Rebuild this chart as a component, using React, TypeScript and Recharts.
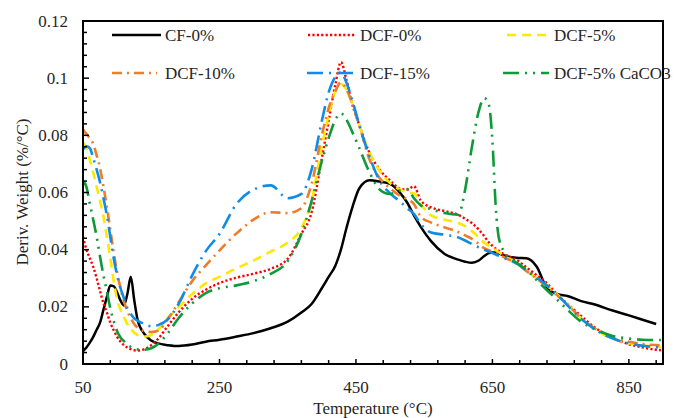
import { LineChart, Line, XAxis, YAxis, Legend, ReferenceArea, Label } from "recharts";

const temps = [
  50, 55, 60, 65, 70, 75, 80, 85, 90, 95,
  100, 105, 110, 115, 120, 125, 130, 140, 150, 160,
  175, 190, 210, 230, 250, 275, 300, 325, 350, 370,
  385, 400, 410, 420, 428, 436, 445, 455, 470, 485,
  500, 515, 525, 535, 545, 560, 580, 600, 610, 620,
  630, 638, 645, 650, 655, 660, 670, 685, 700, 715,
  730, 745, 760, 780, 800, 825, 850, 870, 890, 897,
];

const cf0 = [
  0.0045, 0.0058, 0.0075, 0.0095, 0.012, 0.0145, 0.019, 0.0235, 0.0275, 0.0272,
  0.025, 0.0222, 0.0205, 0.0245, 0.0305, 0.0225, 0.0155, 0.0105, 0.0082, 0.0072,
  0.0066, 0.0063, 0.0068, 0.0078, 0.0085, 0.0096, 0.0108, 0.0125, 0.0148, 0.018,
  0.021, 0.0265, 0.0305, 0.0345, 0.04, 0.0475, 0.055, 0.0615, 0.0643, 0.0638,
  0.063, 0.0598, 0.0565, 0.052, 0.048, 0.043, 0.0385, 0.0365, 0.0358, 0.0354,
  0.0362, 0.0378, 0.0388, 0.039, 0.039, 0.0386, 0.0378, 0.0372, 0.037, 0.034,
  0.0265, 0.0245, 0.0238, 0.022, 0.0208, 0.0188, 0.017, 0.0155, 0.014, null,
];

const dcf0 = [
  0.0445, 0.04, 0.037, 0.034, 0.03, 0.0255, 0.0212, 0.018, 0.0145, 0.0118,
  0.0095, 0.0078, 0.0066, 0.0058, 0.0052, 0.0048, 0.0047, 0.0052, 0.0066, 0.0088,
  0.0135, 0.018, 0.0228, 0.026, 0.0283, 0.0302, 0.0316, 0.0333, 0.0368, 0.0455,
  0.053, 0.072, 0.085, 0.098, 0.1056, 0.0995, 0.0905, 0.0835, 0.0738, 0.0679,
  0.0642, 0.0613, 0.061, 0.0622, 0.0572, 0.0548, 0.0535, 0.0522, 0.0508, 0.0493,
  0.047, 0.0447, 0.0425, 0.0413, 0.0403, 0.0395, 0.038, 0.0365, 0.0338, 0.031,
  0.0282, 0.0243, 0.021, 0.0168, 0.0128, 0.0093, 0.0069, 0.0058, 0.005, 0.0048,
];

const dcf5 = [
  0.0775, 0.0755, 0.0714, 0.067, 0.062, 0.057, 0.0515, 0.0445, 0.0372, 0.029,
  0.0225, 0.019, 0.0163, 0.014, 0.0122, 0.011, 0.0101, 0.0096, 0.0102, 0.012,
  0.0163, 0.0198, 0.0245, 0.0282, 0.0305, 0.0335, 0.0362, 0.0393, 0.0425, 0.0475,
  0.057, 0.076, 0.087, 0.0955, 0.098, 0.096, 0.091, 0.0835, 0.074, 0.0675,
  0.0633, 0.061, 0.0601, 0.0597, 0.056, 0.052, 0.0505, 0.0493, 0.0482, 0.0465,
  0.0443, 0.0425, 0.0413, 0.0405, 0.0398, 0.039, 0.0375, 0.0353, 0.0325, 0.03,
  0.0275, 0.0243, 0.021, 0.016, 0.0122, 0.0089, 0.0073, 0.0066, 0.006, 0.006,
];

const dcf10 = [
  0.082, 0.0805, 0.079, 0.077, 0.073, 0.0685, 0.062, 0.055, 0.047, 0.039,
  0.032, 0.0265, 0.022, 0.0185, 0.016, 0.014, 0.0127, 0.0115, 0.0112, 0.0116,
  0.016, 0.0215, 0.029, 0.0345, 0.0397, 0.0457, 0.0505, 0.0531, 0.0528, 0.0545,
  0.063, 0.08, 0.0895, 0.0955, 0.0985, 0.096, 0.091, 0.0835, 0.0715, 0.065,
  0.0615, 0.0588, 0.0577, 0.056, 0.0515, 0.0495, 0.0478, 0.0462, 0.045, 0.0438,
  0.042, 0.0405, 0.0398, 0.0393, 0.0387, 0.0382, 0.037, 0.0352, 0.0325, 0.0298,
  0.0272, 0.024, 0.0208, 0.016, 0.0125, 0.0093, 0.0078, 0.007, 0.0066, 0.0065,
];

const dcf15 = [
  0.075, 0.0762, 0.0755, 0.072, 0.068, 0.0635, 0.058, 0.052, 0.0445, 0.037,
  0.031, 0.0265, 0.023, 0.0195, 0.0175, 0.016, 0.0152, 0.014, 0.0132, 0.0136,
  0.0158, 0.021, 0.031, 0.0395, 0.0455, 0.056, 0.061, 0.0625, 0.058, 0.0595,
  0.068, 0.085, 0.095, 0.1005, 0.102, 0.0985, 0.092, 0.0835, 0.0725, 0.064,
  0.0597, 0.0568, 0.0545, 0.0525, 0.049, 0.046, 0.0452, 0.0443, 0.0432, 0.042,
  0.0408, 0.04, 0.0393, 0.0388, 0.0383, 0.0378, 0.0368, 0.0352, 0.0328, 0.0302,
  0.0275, 0.0243, 0.0205, 0.0158, 0.0122, 0.0091, 0.0072, 0.0064, 0.0059, 0.0058,
];

const dcf5CaCO3 = [
  0.064, 0.062, 0.056, 0.0505, 0.0445, 0.0375, 0.031, 0.0255, 0.0195, 0.015,
  0.0115, 0.0093, 0.008, 0.0068, 0.006, 0.0054, 0.0051, 0.005, 0.0055, 0.007,
  0.011, 0.016, 0.0212, 0.0248, 0.0265, 0.0275, 0.029, 0.0315, 0.036, 0.0455,
  0.057, 0.071, 0.079, 0.0855, 0.0877, 0.0855, 0.081, 0.0755, 0.067, 0.061,
  0.0595, 0.0608, 0.0612, 0.058, 0.0555, 0.0542, 0.0528, 0.0522, 0.061, 0.076,
  0.0885, 0.093, 0.0905, 0.078, 0.0545, 0.0435, 0.0385, 0.0355, 0.033, 0.0293,
  0.0258, 0.0225, 0.019, 0.0148, 0.0122, 0.0099, 0.0089, 0.0085, 0.0084, 0.0084,
];

const xTicks = [
  50, 90, 130, 170, 210, 250, 290, 330, 370, 410, 450,
  490, 530, 570, 610, 650, 690, 730, 770, 810, 850, 890,
];
const xLabels = [50, 250, 450, 650, 850];

const yTicks = [
  0, 0.004, 0.008, 0.012, 0.016, 0.02, 0.024, 0.028, 0.032, 0.036, 0.04,
  0.044, 0.048, 0.052, 0.056, 0.06, 0.064, 0.068, 0.072, 0.076, 0.08,
  0.084, 0.088, 0.092, 0.096, 0.1, 0.104, 0.108, 0.112, 0.116, 0.12,
];
const yLabels = [0, 0.02, 0.04, 0.06, 0.08, 0.1, 0.12];

const data = temps.map((t, i) => ({
  t,
  cf0: cf0[i],
  dcf0: dcf0[i],
  dcf5: dcf5[i],
  dcf10: dcf10[i],
  dcf15: dcf15[i],
  caco3: dcf5CaCO3[i],
}));

const FONT = "'Liberation Serif', 'Times New Roman', serif";
const TEXT = "#262626";

// style + legend slot for each series
const series = [
  { key: "cf0", name: "CF-0%", color: "#000000", dash: undefined, width: 2.5, lx: 112, lx2: 161, tx: 165, ly: 35 },
  { key: "dcf0", name: "DCF-0%", color: "#ff0000", dash: "2.2 2.2", width: 2.4, lx: 308, lx2: 355, tx: 360, ly: 35 },
  { key: "dcf5", name: "DCF-5%", color: "#ffe800", dash: "9 6", width: 2.6, lx: 507, lx2: 551, tx: 554, ly: 35 },
  { key: "dcf10", name: "DCF-10%", color: "#f07c2a", dash: "10 5 2 5", width: 2.6, lx: 112, lx2: 157, tx: 165, ly: 73 },
  { key: "dcf15", name: "DCF-15%", color: "#0f8ce6", dash: "16 6 2 6", width: 2.6, lx: 307, lx2: 357, tx: 360, ly: 73 },
  { key: "caco3", name: "DCF-5% CaCO3", color: "#0e9a38", dash: "16 6 2 6 2 6", width: 2.6, lx: 503, lx2: 549, tx: 554, ly: 73 },
];

function XTick(props: any) {
  const { x, y, payload } = props;
  const major = xLabels.includes(payload.value);
  return (
    <g>
      <line x1={x} y1={y} x2={x} y2={y - (major ? 5 : 4)} stroke="#000" strokeWidth={1.5} />
      {major && (
        <text x={x} y={y + 23} textAnchor="middle" dominantBaseline="central" fontFamily={FONT} fontSize={17} fill={TEXT}>
          {payload.value}
        </text>
      )}
    </g>
  );
}

function YTick(props: any) {
  const { x, y, payload } = props;
  const major = yLabels.some((v) => Math.abs(v - payload.value) < 1e-9);
  return (
    <g>
      <line x1={x} y1={y} x2={x + (major ? 6 : 4)} y2={y} stroke="#000" strokeWidth={1.5} />
      {major && (
        <text x={x - 15} y={y} textAnchor="end" dominantBaseline="central" fontFamily={FONT} fontSize={17} fill={TEXT}>
          {String(payload.value)}
        </text>
      )}
    </g>
  );
}

function LegendBox() {
  return (
    <svg width={683} height={100} style={{ display: "block" }}>
      {series.map((s) => (
        <g key={s.key}>
          <line x1={s.lx} y1={s.ly} x2={s.lx2} y2={s.ly} stroke={s.color} strokeWidth={s.width} strokeDasharray={s.dash} />
          <text x={s.tx} y={s.ly} dominantBaseline="central" fontFamily={FONT} fontSize={17} fill={TEXT}>
            {s.name}
          </text>
        </g>
      ))}
    </svg>
  );
}

export default function App() {
  return (
    <div style={{ position: "absolute", left: 0, top: 0, width: 683, height: 418, background: "#fff" }}>
      <LineChart width={683} height={418} data={data} margin={{ top: 21, right: 20, bottom: 53, left: 82 }}>
        <XAxis
          dataKey="t"
          type="number"
          domain={[50, 900]}
          ticks={xTicks}
          interval={0}
          height={1}
          tickSize={0}
          tickMargin={0}
          tickLine={false}
          axisLine={{ stroke: "#000", strokeWidth: 2 }}
          tick={<XTick />}
        >
          <Label
            content={() => (
              <text x={373} y={408} textAnchor="middle" dominantBaseline="central" fontFamily={FONT} fontSize={17} fill={TEXT}>
                Temperature (°C)
              </text>
            )}
          />
        </XAxis>
        <YAxis
          type="number"
          domain={[0, 0.12]}
          ticks={yTicks}
          interval={0}
          width={1}
          tickSize={0}
          tickMargin={0}
          tickLine={false}
          axisLine={{ stroke: "#000", strokeWidth: 2 }}
          tick={<YTick />}
        >
          <Label
            content={() => (
              <text
                x={22}
                y={192}
                transform="rotate(-90 22 192)"
                textAnchor="middle"
                dominantBaseline="central"
                fontFamily={FONT}
                fontSize={17}
                fill={TEXT}
              >
                Deriv. Weight (%/°C)
              </text>
            )}
          />
        </YAxis>
        <ReferenceArea x1={50} x2={900} y1={0} y2={0.12} fill="none" stroke="#000" strokeWidth={2} />
        <Legend
          layout="horizontal"
          verticalAlign="middle"
          wrapperStyle={{ left: 0, top: 0, width: 683, height: 100 }}
          content={() => <LegendBox />}
        />
        {series.map((s) => (
          <Line
            key={s.key}
            dataKey={s.key}
            name={s.name}
            type="monotone"
            stroke={s.color}
            strokeWidth={s.width}
            strokeDasharray={s.dash}
            dot={false}
            connectNulls
            isAnimationActive={false}
          />
        ))}
      </LineChart>
    </div>
  );
}
